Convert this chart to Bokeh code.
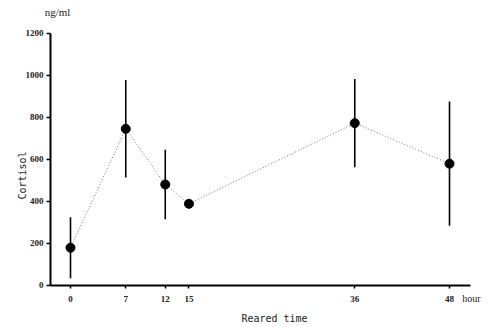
from bokeh.plotting import figure
from bokeh.models import Range1d, FixedTicker, Label, ColumnDataSource
from bokeh.embed import file_html
from bokeh.resources import INLINE
from bokeh.core.properties import value
import math

# Data
hours = [0, 7, 12, 15, 36, 48]
cortisol = [180, 746, 481, 389, 773, 580]
err = [145, 232, 165, 0, 210, 296]
y_ticks = [0, 200, 400, 600, 800, 1000, 1200]

upper = [c + e for c, e in zip(cortisol, err)]
lower = [c - e for c, e in zip(cortisol, err)]
src = ColumnDataSource(dict(x=hours, y=cortisol, up=upper, lo=lower))

X0, X1 = -2.53, 50.66   # extent of the drawn x axis line
p = figure(width=496, height=327, output_backend="svg", toolbar_location=None,
           x_range=Range1d(-8.865, 53.95), y_range=Range1d(-200, 1357.1),
           min_border=0)
p.outline_line_color = None
p.grid.visible = False
p.background_fill_color = "white"

FONT = "Liberation Serif"

p.xaxis.ticker = FixedTicker(ticks=hours)
p.yaxis.ticker = FixedTicker(ticks=y_ticks)
p.xaxis.fixed_location = 0
p.yaxis.fixed_location = X0
p.xaxis.bounds = (X0, X1)
p.yaxis.bounds = (0, 1200)
for ax in (p.xaxis, p.yaxis):
    ax.axis_line_width = 2
    ax.axis_line_color = "black"
    ax.major_tick_line_color = "black"
    ax.major_tick_line_width = 1.5
    ax.minor_tick_line_color = None
    ax.major_label_text_font = FONT
    ax.major_label_text_font_size = "9px"
    ax.major_label_text_font_style = "bold"
    ax.major_label_text_color = "#222222"
p.yaxis.major_tick_out = 4
p.yaxis.major_tick_in = 0
p.xaxis.major_tick_out = 3
p.xaxis.major_tick_in = 0
p.xaxis.major_label_standoff = 8
p.yaxis.major_label_standoff = 3

p.line("x", "y", source=src, line_color="#777777", line_width=1, line_dash="1 2")
p.segment(x0="x", y0="lo", x1="x", y1="up", source=src, line_color="black", line_width=1.6)
p.scatter("x", "y", source=src, size=9, fill_color="black", line_color="black")

def lab(x, y, text, font, size, align="center", angle=0.0):
    p.add_layout(Label(x=x, y=y, text=text, text_font=font, text_font_size=size,
                       text_color="#222222", text_baseline="middle", text_align=align,
                       angle=angle))

lab(49.6, -62, "hour", FONT, "10px", align="left")
lab(26.6, -157, "Reared   time", "DejaVu Sans Mono", "10px")
lab(-6.1, 524, "Cortisol", "DejaVu Sans Mono", "10px", angle=math.pi / 2)
lab(-1.65, 1300, "ng/ml", FONT, "11px")

open("out.html", "w").write(file_html(p, INLINE))
